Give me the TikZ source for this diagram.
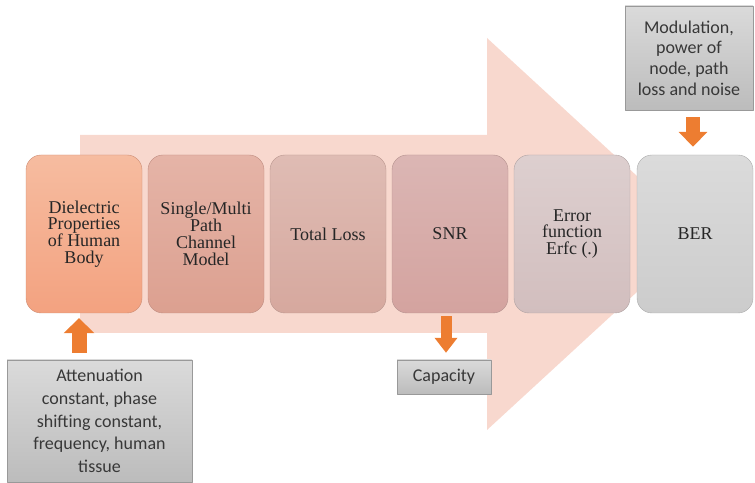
\documentclass[tikz,border=0pt]{standalone}
\usepackage{fontspec}
\setmainfont{Liberation Serif}
\newfontfamily\carlito{Carlito}
\usetikzlibrary{arrows.meta}

\definecolor{flowcol}{RGB}{248,216,206}
\definecolor{feedcol}{RGB}{237,125,49}
\definecolor{paramtop}{RGB}{218,218,218}
\definecolor{parambot}{RGB}{188,188,188}

\begin{document}
\begin{tikzpicture}[>=latex,line join=bevel,
  stage/.style={rounded corners=15bp,minimum width=116bp,minimum height=158bp,
    inner sep=0pt,align=center,text=black!85,font=\fontsize{18bp}{16.8bp}\selectfont},
  param/.style={draw=black!40,top color=paramtop,bottom color=parambot,inner sep=0pt,
    align=center,text=black!78,font=\carlito\fontsize{18bp}{22.7bp}\selectfont},
  feed/.style={draw=feedcol,line width=#1,-{Triangle[width=2*#1,length=15bp]}},
  feed/.default=15bp]
\useasboundingbox (0bp,0bp) rectangle (755bp,483bp);
%%
  % Background: big flow arrow
  \fill [flowcol] (80bp,348bp) -- (487bp,348bp) -- (487bp,445bp) -- (700bp,249bp)
    -- (487bp,53bp) -- (487bp,150bp) -- (80bp,150bp) -- cycle;
  % Node: dielectric
  \node [stage,draw={rgb,255:red,205;green,140;blue,115},
    top color={rgb,255:red,246;green,188;blue,160},bottom color={rgb,255:red,243;green,162;blue,128}]
    (dielectric) at (84bp,249bp) {Dielectric\\Properties\\of Human\\Body};
  % Node: channel
  \node [stage,draw={rgb,255:red,190;green,140;blue,128},
    top color={rgb,255:red,229;green,180;blue,167},bottom color={rgb,255:red,220;green,160;blue,144}]
    (channel) at (206bp,249bp) {Single/Multi\\Path\\Channel\\Model};
  % Node: loss
  \node [stage,draw={rgb,255:red,185;green,150;blue,142},
    top color={rgb,255:red,223;green,188;blue,180},bottom color={rgb,255:red,214;green,168;blue,158}]
    (loss) at (328bp,249bp) {Total Loss};
  % Node: snr
  \node [stage,draw={rgb,255:red,180;green,145;blue,142},
    top color={rgb,255:red,219;green,182;blue,180},bottom color={rgb,255:red,212;green,163;blue,159}]
    (snr) at (450bp,249bp) {SNR};
  % Node: erfc
  \node [stage,draw={rgb,255:red,175;green,162;blue,162},
    top color={rgb,255:red,221;green,207;blue,207},bottom color={rgb,255:red,210;green,190;blue,190}]
    (erfc) at (572bp,249bp) {Error\\function\\Erfc (.)};
  % Node: ber
  \node [stage,draw={rgb,255:red,170;green,170;blue,170},
    top color={rgb,255:red,219;green,219;blue,219},bottom color={rgb,255:red,204;green,204;blue,204}]
    (ber) at (695bp,249bp) {BER};
  % Node: attenuation
  \node [param,minimum width=185bp,minimum height=122bp] (attenuation) at (99.5bp,62bp)
    {Attenuation\\constant, phase\\shifting constant,\\frequency, human\\tissue};
  % Node: capacity
  \node [param,minimum width=94bp,minimum height=34bp] (capacity) at (444bp,106bp) {Capacity};
  % Node: modulation
  \node [param,minimum width=128bp,minimum height=104bp,font=\carlito\fontsize{18bp}{20.7bp}\selectfont]
    (modulation) at (689bp,425bp) {Modulation,\\power of\\node, path\\loss and noise};
  % Edge: attenuation -> dielectric
  \draw [feed,shorten <=7bp,shorten >=5bp] (attenuation.north -| 79bp,0bp) -- ([xshift=-5bp]dielectric.south);
  % Edge: snr -> capacity
  \draw [feed=11bp,shorten <=3bp,shorten >=7bp] ([xshift=-4bp]snr.south) -- ([xshift=-4bp]snr.south |- capacity.north);
  % Edge: modulation -> ber
  \draw [feed=14bp,shorten <=7bp,shorten >=8bp] (modulation.south -| 693bp,0bp) -- (ber.north -| 693bp,0bp);
%
\end{tikzpicture}
\end{document}
